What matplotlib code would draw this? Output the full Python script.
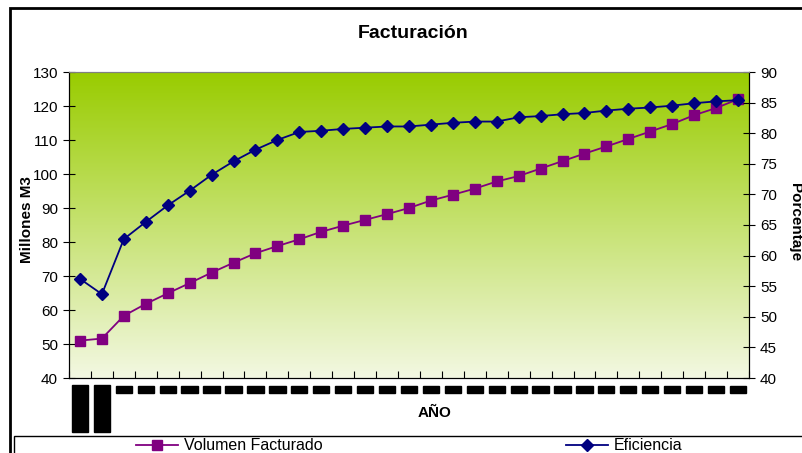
import numpy as np
import matplotlib
matplotlib.use("Agg")
import matplotlib.pyplot as plt
from matplotlib.lines import Line2D
from matplotlib.patches import Rectangle

plt.rcParams['font.family'] = ['Liberation Sans', 'DejaVu Sans']

# data
years = ["1976-77", "1977-78", "1978", "1979", "1980", "1981", "1982", "1983",
         "1984", "1985", "1986", "1987", "1988", "1989", "1990", "1991", "1992",
         "1993", "1994", "1995", "1996", "1997", "1998", "1999", "2000", "2001",
         "2002", "2003", "2004", "2005", "2006"]
volumen = [51.0, 51.6, 58.3, 61.8, 64.9, 67.9, 71.0, 73.9, 76.7, 78.8,
           80.8, 83.0, 84.8, 86.5, 88.2, 90.0, 92.2, 93.9, 95.7, 97.8,
           99.4, 101.6, 103.8, 106.0, 108.1, 110.3, 112.5, 114.7, 117.3, 119.4, 122.0]
eficiencia = [56.2, 53.7, 62.7, 65.5, 68.2, 70.6, 73.2, 75.4, 77.3, 78.9,
              80.2, 80.4, 80.7, 80.9, 81.1, 81.1, 81.4, 81.7, 81.9, 81.9,
              82.6, 82.8, 83.1, 83.3, 83.7, 84.0, 84.2, 84.5, 84.9, 85.2, 85.4]

W, H = 802, 453
fig = plt.figure(figsize=(W / 100, H / 100), dpi=100)
ax = fig.add_axes([69 / W, 1 - 378 / H, (749 - 69) / W, (378 - 72) / H])
ax2 = ax.twinx()

x = np.arange(len(years))
xmin, xmax = -0.5, len(years) - 0.5

# background gradient
top = np.array([153, 204, 0]) / 255
bot = np.array([243, 248, 226]) / 255
t = np.linspace(0, 1, 256)[:, None]
grad = (top * (1 - t) + bot * t)[:, None, :]
ax.imshow(grad, extent=[xmin, xmax, 40, 130], aspect='auto', zorder=0)

ax.plot(x, volumen, color='#800080', lw=1.3, marker='s', ms=7,
        markerfacecolor='#800080', markeredgecolor='#800080', zorder=3)
ax2.plot(x, eficiencia, color='#000080', lw=1.3, marker='D', ms=6.5,
         markerfacecolor='#000080', markeredgecolor='#000080', zorder=3)

ax.set_xlim(xmin, xmax)
ax.set_ylim(40, 130)
ax2.set_ylim(40, 90)
ax.set_yticks(np.arange(40, 131, 10))
ax2.set_yticks(np.arange(40, 91, 5))
ax.set_xticks(np.arange(xmin, xmax + 0.01, 1))
ax.set_xticklabels([])

for s in ['left', 'right', 'bottom']:
    ax2.spines[s].set_color('black')
ax2.spines['top'].set_color('#808080')
ax.spines['top'].set_color('#808080')
ax.tick_params(axis='y', direction='inout', length=8, labelsize=11, pad=4)
ax2.tick_params(axis='y', direction='inout', length=8, labelsize=11, pad=4)
ax.tick_params(axis='x', direction='in', length=5)

# redacted category labels
for i, lab in enumerate(years):
    if i < 2:
        ax.text(i, 37.4, lab, rotation=90, ha='center', va='top', fontsize=8.5,
                color='black', fontweight='bold',
                bbox=dict(boxstyle='square,pad=0.15', fc='black', ec='black'))
    else:
        ax.text(i, 37.4, lab, ha='center', va='top', fontsize=4.6,
                color='black', fontweight='bold',
                bbox=dict(boxstyle='square,pad=0.15', fc='black', ec='black'))

fig.text(27 / W, 1 - 220 / H, 'Millones M3', rotation=90, ha='center', va='center',
         fontsize=11, fontweight='bold')
fig.text(795 / W, 1 - 222 / H, 'Porcentaje', rotation=270, ha='center', va='center',
         fontsize=11, fontweight='bold')
fig.text(435 / W, 1 - 413 / H, 'AÑO', ha='center', va='center',
         fontsize=11, fontweight='bold')
fig.text(413 / W, 1 - 33 / H, 'Facturación', ha='center', va='center',
         fontsize=14, fontweight='bold')

# outer frame and legend box
fig.patches.append(Rectangle((10 / W, -0.2), 1.2, 1.2 - 8 / H, transform=fig.transFigure,
                             fill=False, ec='black', lw=2))
fig.patches.append(Rectangle((14 / W, -0.2), 1.2, 0.2 + 1 - 436 / H, transform=fig.transFigure,
                             fill=False, ec='black', lw=1))

h1 = Line2D([], [], color='#800080', lw=1.3, marker='s', ms=7)
h2 = Line2D([], [], color='#000080', lw=1.3, marker='D', ms=6.5)
fig.legend([h1], ['Volumen Facturado'], loc='center left', frameon=False,
           bbox_to_anchor=(128 / W, 1 - 446 / H), fontsize=11.5,
           handlelength=2.6, handletextpad=0.4, borderpad=0)
fig.legend([h2], ['Eficiencia'], loc='center left', frameon=False,
           bbox_to_anchor=(558 / W, 1 - 446 / H), fontsize=11.5,
           handlelength=2.6, handletextpad=0.4, borderpad=0)

fig.savefig('out.png', dpi=100)
